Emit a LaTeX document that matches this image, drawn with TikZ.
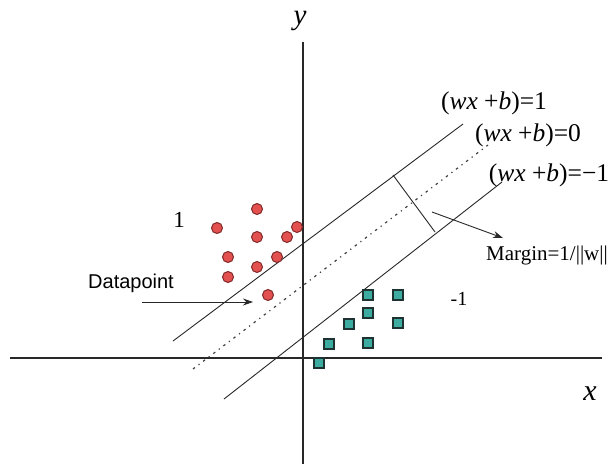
\documentclass[tikz,border=0pt]{standalone}
\usepackage{fontspec}
\setmainfont{Liberation Serif}
\newfontfamily\dsans{Liberation Sans}
\usetikzlibrary{arrows.meta}
\definecolor{dotred}{RGB}{226,80,80}
\definecolor{dotredb}{RGB}{130,40,40}
\definecolor{sqteal}{RGB}{60,172,160}
\definecolor{sqtealb}{RGB}{30,50,50}
\definecolor{linegray}{RGB}{40,40,40}
\tikzset{
  axisline/.style={draw=linegray, line width=1.1pt},
  hyper/.style={draw=linegray, line width=0.9pt},
  midline/.style={draw=black!75, line width=1.2pt, dash pattern=on 2.5pt off 4.5pt on 1.2pt off 4.5pt},
  redpt/.style={circle, fill=dotred, draw=dotredb, line width=1pt, minimum size=11pt, inner sep=0pt},
  tealpt/.style={rectangle, fill=sqteal, draw=sqtealb, line width=1.1pt, minimum size=10pt, inner sep=0pt},
  eqlabel/.style={font=\fontsize{25.5}{28}\selectfont, inner sep=0pt},
  txtlabel/.style={font=\fontsize{21}{24}\selectfont, inner sep=0pt},
  arr/.style={draw=linegray, line width=0.9pt, -{Stealth[length=10pt,width=7pt]}},
}
\begin{document}
\begin{tikzpicture}[x=1pt,y=-1pt]
\useasboundingbox[fill=white] (0,0) rectangle (609,466);
% axes
\coordinate (xl) at (10,358);
\coordinate (xr) at (602,358);
\coordinate (yt) at (303,42);
\coordinate (yb) at (303,464);
\draw[axisline] (xl) -- (xr);
\draw[axisline] (yt) -- (yb);
\node[font=\fontsize{29}{30}\selectfont\itshape, inner sep=0pt] (ylab) at (300,21) {y};
\node[font=\fontsize{30}{30}\selectfont\itshape, inner sep=0pt] (xlab) at (590,394) {x};
% hyperplanes
\coordinate (u1) at (173,341); \coordinate (u2) at (463,124);
\coordinate (m1) at (193,369); \coordinate (m2) at (488,145);
\coordinate (l1) at (224,399); \coordinate (l2) at (502,182);
\draw[hyper] (u1) -- (u2);
\draw[midline] (m1) -- (m2);
\draw[hyper] (l1) -- (l2);
% margin perpendicular
\coordinate (p1) at (393,175); \coordinate (p2) at (435,232);
\draw[hyper] (p1) -- (p2);
% labels
\node[eqlabel] (eq1) at (494,103) {(\textit{wx} +\textit{b})=1};
\node[eqlabel] (eq0) at (528,135) {(\textit{wx} +\textit{b})=0};
\node[eqlabel] (eqm) at (549,175) {(\textit{wx} +\textit{b})=\textminus 1};
\node[txtlabel] (mg) at (547,255) {Margin=1/||w||};
\coordinate (ma) at (432,212);
\coordinate (mb) at (503,238);
\draw[arr] (ma) -- (mb);
\node[font=\fontsize{23}{24}\selectfont, inner sep=0pt] (one) at (179,220) {1};
\node[font=\fontsize{20}{22}\selectfont, inner sep=0pt] (mone) at (459,299) {-1};
\node[font=\dsans\fontsize{20}{22}\selectfont, inner sep=0pt] (dp) at (131,283) {Datapoint};
\coordinate (da) at (142,302);
\coordinate (db) at (253,302);
\draw[arr] (da) -- (db);
% red points
\node[redpt] (r1) at (257,209) {};
\node[redpt] (r2) at (217,228) {};
\node[redpt] (r3) at (257,237) {};
\node[redpt] (r4) at (287,237) {};
\node[redpt] (r5) at (297,227) {};
\node[redpt] (r6) at (228,257) {};
\node[redpt] (r7) at (277,257) {};
\node[redpt] (r8) at (257,267) {};
\node[redpt] (r9) at (228,277) {};
\node[redpt] (r10) at (268,295) {};
% teal points
\node[tealpt] (s1) at (368,295) {};
\node[tealpt] (s2) at (398,295) {};
\node[tealpt] (s3) at (368,313) {};
\node[tealpt] (s4) at (349,324) {};
\node[tealpt] (s5) at (398,323) {};
\node[tealpt] (s6) at (329,344) {};
\node[tealpt] (s7) at (368,343) {};
\node[tealpt] (s8) at (319,363) {};
\end{tikzpicture}
\end{document}
